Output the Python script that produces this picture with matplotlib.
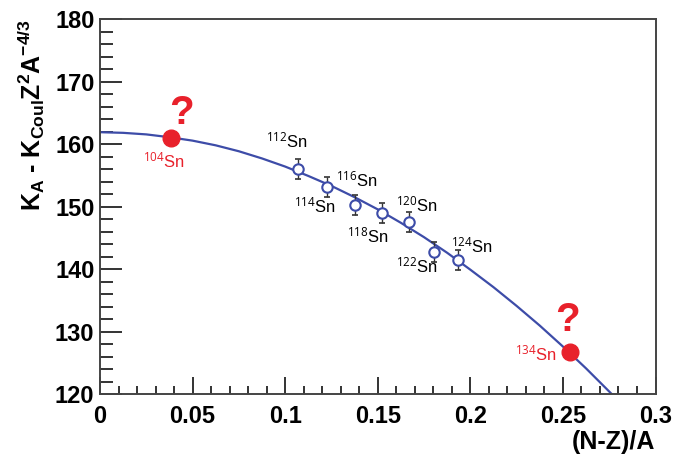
import numpy as np
import matplotlib
matplotlib.use("Agg")
import matplotlib.pyplot as plt
from matplotlib.ticker import MultipleLocator

plt.rcParams["font.family"] = ["Liberation Sans", "DejaVu Sans"]
plt.rcParams["mathtext.fontset"] = "custom"
plt.rcParams["mathtext.rm"] = "Open Sans"
plt.rcParams["mathtext.it"] = "Open Sans"
plt.rcParams["mathtext.bf"] = "Liberation Sans:bold"
plt.rcParams["mathtext.default"] = "rm"

# measured Sn isotopes
iso_a = [112, 114, 116, 118, 120, 122, 124]
iso_x = [0.107, 0.1228, 0.1379, 0.1525, 0.1667, 0.1803, 0.1935]
iso_y = [156.0, 153.2, 150.2, 148.9, 147.6, 142.8, 141.4]
iso_err = [1.6, 1.6, 1.6, 1.6, 1.6, 1.6, 1.6]
# label positions
iso_lx = [0.1008, 0.1159, 0.1389, 0.1449, 0.1714, 0.1714, 0.2008]
iso_ly = [160.6, 150.2, 154.3, 145.4, 150.4, 140.6, 143.8]

# extrapolated isotopes
ext_a = [104, 134]
ext_x = [0.0385, 0.2537]
ext_y = [161.0, 126.7]
ext_lx = [0.0346, 0.2354]
ext_ly = [157.4, 126.5]
q_x = [0.0438, 0.2527]
q_y = [161.9, 128.8]

# fitted curve
fit_x = [0.0, 0.0125, 0.025, 0.0375, 0.05, 0.0625, 0.075, 0.0875, 0.1, 0.1125,
         0.125, 0.1375, 0.15, 0.1625, 0.175, 0.1875, 0.2, 0.2125, 0.225, 0.2375,
         0.25, 0.2625, 0.275, 0.28]
fit_y = [161.9, 161.8, 161.55, 161.1, 160.55, 159.8, 158.85, 157.7, 156.4, 154.9,
         153.3, 151.5, 149.55, 147.4, 145.1, 142.6, 139.9, 137.1, 134.1, 130.95,
         127.6, 124.1, 120.4, 118.9]

xticks = [0, 0.05, 0.1, 0.15, 0.2, 0.25, 0.3]
xticklabels = ["0", "0.05", "0.1", "0.15", "0.2", "0.25", "0.3"]

blue = "#3d4ca8"
red = "#e8212b"

fig = plt.figure(figsize=(6.73, 4.55), dpi=100)
ax = fig.add_axes([0.1486, 0.134, 0.8254, 0.824])

ax.plot(fit_x, fit_y, color=blue, lw=1.6, zorder=2)
ax.errorbar(iso_x, iso_y, yerr=iso_err, fmt="none", ecolor="#333333",
            elinewidth=1.0, capsize=2.5, capthick=1.2, zorder=3)
ax.plot(iso_x, iso_y, "o", mfc="white", mec=blue, mew=1.5, ms=7.5, zorder=4)
ax.plot(ext_x, ext_y, "o", color=red, ms=12, zorder=5)

for a, x, y in zip(iso_a, iso_lx, iso_ly):
    ax.text(x, y, f"$^{{{a}}}$Sn", fontsize=12, ha="center", va="center", color="black")
for a, x, y in zip(ext_a, ext_lx, ext_ly):
    ax.text(x, y, f"$^{{{a}}}$Sn", fontsize=12, ha="center", va="center", color=red)
for x, y in zip(q_x, q_y):
    ax.text(x, y, "?", fontsize=29, fontweight="bold", ha="center", va="bottom", color=red)

ax.set_xticks(xticks)
ax.set_xticklabels(xticklabels)
ax.xaxis.set_minor_locator(MultipleLocator(0.01))
ax.yaxis.set_major_locator(MultipleLocator(10))
ax.yaxis.set_minor_locator(MultipleLocator(2))
ax.set_xlim(0, 0.3)
ax.set_ylim(120, 180)

ax.tick_params(which="both", direction="in", top=False, right=False, colors="#333333",
               labelcolor="black", labelsize=17, width=1.4)
ax.tick_params(axis="y", which="major", length=16, pad=4)
ax.tick_params(axis="y", which="minor", length=9)
ax.tick_params(axis="x", which="major", length=12, pad=8)
ax.tick_params(axis="x", which="minor", length=6)
for lab in ax.get_xticklabels() + ax.get_yticklabels():
    lab.set_fontweight("bold")
for sp in ax.spines.values():
    sp.set_color("#444444")
    sp.set_linewidth(1.4)

ax.set_xlabel("(N-Z)/A", fontsize=18, fontweight="bold", loc="right", labelpad=1)
ax.set_ylabel(r"$\mathbf{K_{A}}$ - $\mathbf{K_{Coul}Z^{2}A^{-4/3}}$", fontsize=18,
              fontweight="bold", loc="top", labelpad=6)

fig.savefig("out.png", dpi=100)
